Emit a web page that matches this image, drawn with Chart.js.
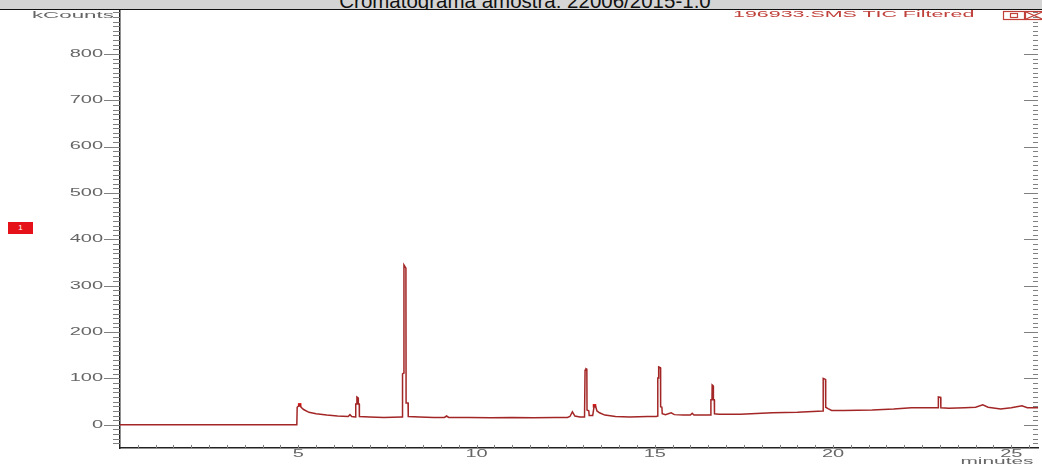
<!DOCTYPE html>
<html>
<head>
<meta charset="utf-8">
<script src="https://cdn.jsdelivr.net/npm/chart.js@4.4.1/dist/chart.umd.min.js"></script>
<style>
  html, body { margin: 0; padding: 0; }
  body { position: relative; width: 1042px; height: 465px; overflow: hidden; background: #fff; }
  #chart { position: absolute; left: 0; top: 0; }
  #header { position: absolute; left: 0; top: 0; width: 1042px; height: 9px; background: #d4d4d4;
            border-bottom: 1px solid #111; overflow: hidden; }
  #title { position: absolute; left: 4px; top: -9px; width: 1042px; text-align: center;
           font: 20.5px "Liberation Sans", Arial, sans-serif; line-height: 20.5px; color: #111; white-space: nowrap; }
  .lbl { position: absolute; font: 9.5px "Liberation Sans", Arial, sans-serif; line-height: 10px;
         color: #666; white-space: nowrap; }
  #kcounts { right: 928px; top: 10px; transform-origin: 100% 50%; transform: scaleX(2.35); }
  #minutes { left: 947px; width: 100px; text-align: center; top: 456px; transform-origin: 50% 50%; transform: scaleX(2.2); }
  #trace { left: 733px; top: 9px; font-size: 9px; color: #c0403a; transform-origin: 0 50%; transform: scaleX(2.38); }
  #marker1 { position: absolute; left: 8px; top: 222px; width: 25px; height: 12px; background: #e5121a;
             color: #fff; font: 8px "Liberation Sans", Arial, sans-serif; line-height: 12px; text-align: center; }
  #icons { position: absolute; left: 1000px; top: 8px; }
</style>
</head>
<body>
<canvas id="chart" width="1042" height="465"></canvas>
<div id="header"><div id="title">Cromatograma amostra: 22006/2015-1.0</div></div>
<div class="lbl" id="kcounts">kCounts</div>
<div class="lbl" id="minutes">minutes</div>
<div class="lbl" id="trace">196933.SMS TIC Filtered</div>
<div id="marker1">1</div>
<svg id="icons" width="42" height="14">
  <rect x="3.5" y="3.5" width="21" height="8" fill="none" stroke="#c0403a" stroke-width="1.2"/>
  <rect x="10.5" y="5.5" width="7" height="4" fill="none" stroke="#c0403a" stroke-width="1.2"/>
  <rect x="25.5" y="3.5" width="18" height="8" fill="none" stroke="#c0403a" stroke-width="1.2"/>
  <path d="M26 4 L42 11 M26 11 L42 4" stroke="#c0403a" stroke-width="1.2"/>
</svg>

<script>
/* ================================================
   chromatogram – TIC trace, kCounts vs minutes
================================================ */

// retention time (min) and intensity (kCounts)
const times = [
  0, 4.96, 4.97, 5.04, 5.08, 5.15, 5.3, 5.5, 5.8, 6.1, 6.4, 6.45, 6.5, 6.6,
  6.61, 6.615, 6.64, 6.645, 6.68, 6.685, 6.71, 6.715, 7.0, 7.4, 7.9,
  7.92, 7.925, 7.96, 7.965, 8.02, 8.025, 8.08, 8.085,
  8.4, 8.8, 9.1, 9.16, 9.22, 9.8, 10.4, 11.0, 11.6, 12.2, 12.55, 12.62, 12.69, 12.76, 12.9, 13.03,
  13.04, 13.045, 13.07, 13.095, 13.1, 13.15, 13.16, 13.26, 13.3, 13.34, 13.38, 13.45, 13.6, 13.9, 14.3, 14.8, 15.05,
  15.08, 15.085, 15.105, 15.11, 15.16, 15.165, 15.2, 15.21, 15.3, 15.46, 15.55, 15.8, 16.0, 16.05, 16.1, 16.5,
  16.57, 16.575, 16.605, 16.61, 16.64, 16.645, 16.67, 16.675, 16.8, 17.4, 18.3, 19.0, 19.72,
  19.725, 19.79, 19.795, 19.86, 19.96, 20.3, 21.1, 21.7, 22.2, 22.95,
  22.955, 23.02, 23.025, 23.25, 23.7, 24.0, 24.2, 24.35, 24.7, 25.0, 25.3, 25.45, 25.83
];
const counts = [
  0, 0, 38, 43, 38, 33, 27, 24, 21, 19, 18, 22, 18, 17,
  17, 45, 45, 60, 58, 45, 45, 18, 17, 16, 17,
  17, 110, 112, 345, 338, 47, 47, 18,
  17, 16, 16, 19, 16, 16, 15, 16, 15, 16, 16, 18, 28, 19, 17, 17,
  17, 118, 121, 120, 32, 30, 20, 20, 41, 40, 30, 26, 21, 18, 17, 18, 18,
  19, 101, 101, 125, 123, 39, 38, 24, 22, 26, 22, 21, 21, 25, 21, 21,
  21, 54, 54, 86, 84, 54, 54, 24, 23, 23, 26, 27, 30,
  100, 98, 38, 35, 31, 31, 32, 34, 37, 37,
  60, 59, 37, 36, 37, 38, 43, 38, 34, 37, 41, 37, 37
];

// red peak markers
const markerTimes = [5.04, 13.31];
const markerCounts = [43, 41];

// axis labels
const yTickValues = [0, 100, 200, 300, 400, 500, 600, 700, 800];
const yTickLabels = ['0', '100', '200', '300', '400', '500', '600', '700', '800'];
const xTickValues = [5, 10, 15, 20, 25];
const xTickLabels = ['5', '10', '15', '20', '25'];

const Y_MIN = -50, Y_MAX = 895;
const X_MIN = 0, X_MAX = 25.75;

// ticks + stretched labels, like the instrument software draws them
const axisDecor = {
  id: 'axisDecor',
  afterDraw(chart) {
    const { ctx, chartArea: a, scales: { x, y } } = chart;
    ctx.save();
    ctx.strokeStyle = '#808080';
    ctx.lineWidth = 1;
    ctx.beginPath();

    // y minor ticks (left + right side)
    for (let v = -40; v <= 890; v += 10) {
      const py = Math.round(y.getPixelForValue(v)) + 0.5;
      const major = v % 100 === 0;
      ctx.moveTo(a.left - 7, py); ctx.lineTo(a.left, py);
      ctx.moveTo(a.right - (major ? 14 : 5), py); ctx.lineTo(a.right, py);
    }
    // y major ticks
    yTickValues.forEach(v => {
      const py = Math.round(y.getPixelForValue(v)) + 0.5;
      ctx.moveTo(a.left - 16, py); ctx.lineTo(a.left, py);
    });
    // x minor ticks every half minute
    for (let t = 0.5; t < X_MAX; t += 0.5) {
      const px = Math.round(x.getPixelForValue(t)) + 0.5;
      ctx.moveTo(px, a.bottom); ctx.lineTo(px, a.bottom - 3);
    }
    ctx.stroke();

    ctx.fillStyle = '#666';
    ctx.font = '10px "Liberation Sans", Arial, sans-serif';
    ctx.textBaseline = 'middle';

    yTickValues.forEach((v, i) => {
      ctx.save();
      ctx.translate(a.left - 17, y.getPixelForValue(v));
      ctx.scale(2.0, 1);
      ctx.textAlign = 'right';
      ctx.fillText(yTickLabels[i], 0, 0);
      ctx.restore();
    });
    xTickValues.forEach((v, i) => {
      ctx.save();
      ctx.translate(x.getPixelForValue(v), a.bottom + 6);
      ctx.scale(2.0, 1);
      ctx.textAlign = 'center';
      ctx.fillText(xTickLabels[i], 0, 0);
      ctx.restore();
    });
    ctx.restore();
  }
};

const trace = times.map((t, i) => ({ x: t, y: counts[i] }));
const markers = markerTimes.map((t, i) => ({ x: t, y: markerCounts[i] }));

new Chart(document.getElementById('chart'), {
  type: 'line',
  data: {
    datasets: [
      {
        label: 'TIC',
        data: trace,
        borderColor: '#a32626',
        borderWidth: 1.5,
        pointRadius: 0,
        tension: 0,
        fill: false
      },
      {
        label: 'peaks',
        data: markers,
        showLine: false,
        pointStyle: 'rect',
        pointRadius: 2.5,
        pointBackgroundColor: '#e01010',
        pointBorderWidth: 0
      }
    ]
  },
  options: {
    responsive: false,
    animation: false,
    devicePixelRatio: 1,
    layout: { padding: { top: 10, right: 0, bottom: 0, left: 0 } },
    plugins: { legend: { display: false }, tooltip: { enabled: false } },
    scales: {
      x: {
        type: 'linear',
        min: X_MIN, max: X_MAX,
        grid: { display: false },
        border: { display: true, color: '#222', width: 1.5 },
        ticks: { display: false },
        afterFit: s => { s.height = 17; }
      },
      y: {
        type: 'linear',
        min: Y_MIN, max: Y_MAX,
        grid: { display: false },
        border: { display: true, color: '#222', width: 1.5 },
        ticks: { display: false },
        afterFit: s => { s.width = 120; }
      }
    }
  },
  plugins: [axisDecor]
});
</script>
</body>
</html>
